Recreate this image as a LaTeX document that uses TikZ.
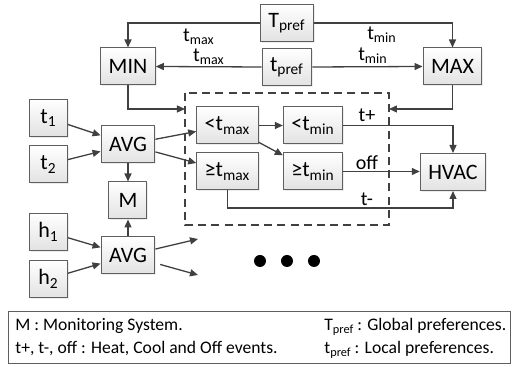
\documentclass[tikz,border=0pt]{standalone}
\usepackage{fontspec}
\setmainfont{Carlito}
\usetikzlibrary{arrows.meta,shadows}
\definecolor{box_line}{RGB}{95,95,95}
\definecolor{wire}{RGB}{64,64,64}
\definecolor{box_bot}{RGB}{226,226,226}
\tikzstyle{blk}=[rectangle,draw=box_line,top color=white,bottom color=box_bot,
  line width=0.5pt,inner xsep=4pt,minimum width=19pt,minimum height=18.5pt,
  font=\fontsize{11}{13}\selectfont,
  drop shadow={opacity=0.15,shadow xshift=0.7pt,shadow yshift=-0.7pt}]
\tikzstyle{lbl}=[font=\fontsize{10}{12}\selectfont,inner sep=1pt]
\tikzstyle{leg}=[font=\fontsize{8.8}{11}\selectfont,inner sep=0pt,anchor=base west]
\tikzstyle{wr}=[draw=wire,line width=0.65pt,-{Triangle[length=4pt,width=3.5pt]}]
\tikzstyle{dot}=[circle,fill=black,minimum size=6pt,inner sep=0pt]

\begin{document}
\begin{tikzpicture}[x=0.5pt,y=-0.5pt]
        \useasboundingbox (0,0) rectangle (516,367);
        % preferences
        \node[style=blk] (Tpref) at (287,23) {T\textsubscript{pref}};
        \node[style=blk] (tpref) at (287,67) {t\textsubscript{pref}};
        \node[style=blk] (MIN) at (128,66.5) {MIN};
        \node[style=blk] (MAX) at (452.5,66.5) {MAX};
        \node[style=lbl] (lmaxA) at (199,37) {t\textsubscript{max}};
        \node[style=lbl] (lmaxB) at (209,57) {t\textsubscript{max}};
        \node[style=lbl] (lminA) at (382,35) {t\textsubscript{min}};
        \node[style=lbl] (lminB) at (373,56) {t\textsubscript{min}};
        % sensors
        \node[style=blk] (t1) at (48.5,118) {t\textsubscript{1}};
        \node[style=blk] (t2) at (48.5,164.5) {t\textsubscript{2}};
        \node[style=blk] (h1) at (48.5,232) {h\textsubscript{1}};
        \node[style=blk] (h2) at (48.5,279) {h\textsubscript{2}};
        \node[style=blk] (avgT) at (128,144.5) {AVG};
        \node[style=blk] (M) at (128,200.5) {M};
        \node[style=blk] (avgH) at (128,255.5) {AVG};
        % comparators
        \draw[wire,line width=0.65pt,dash pattern=on 4pt off 2.6pt] (185,93) rectangle (389,225);
        \coordinate (inL) at (185,109);
        \coordinate (inR) at (389,109);
        \node[style=blk] (ltmax) at (227.5,125.5) {<t\textsubscript{max}};
        \node[style=blk] (ltmin) at (313,125.5) {<t\textsubscript{min}};
        \node[style=blk] (gtmax) at (227.5,171.5) {≥t\textsubscript{max}};
        \node[style=blk] (gtmin) at (313,171.5) {≥t\textsubscript{min}};
        \node[style=blk] (HVAC) at (453,172) {HVAC};
        \node[style=lbl] (tplus) at (367,115) {t+};
        \node[style=lbl] (off) at (367,163) {off};
        \node[style=lbl] (tminus) at (367,199) {t-};
        \coordinate (lowturn) at (453,208);
        \coordinate (oA) at (198,239);
        \coordinate (oB) at (198,275);
        \foreach \x [count=\i] in {260,287,314}
            \node[style=dot] (dot\i) at (\x,261) {};

        \draw[wr] (Tpref.west) -| (MIN.north);
        \draw[wr] (Tpref.east) -| (MAX.north);
        \draw[wr] (tpref.west) -- (MIN.east);
        \draw[wr] (tpref.east) -- (MAX.west);
        \draw[wr] (MIN.south) |- (inL);
        \draw[wr] (MAX.south) |- (inR);
        \draw[wr] (t1) to (avgT);
        \draw[wr] (t2) to (avgT);
        \draw[wr] (h1) to (avgH);
        \draw[wr] (h2) to (avgH);
        \draw[wr] (avgT.south) to (M.north);
        \draw[wr] (avgH.north) to (M.south);
        \draw[wr] (avgT) to (ltmax);
        \draw[wr] (avgT) to (gtmax);
        \draw[wr] (avgH) to (oA);
        \draw[wr,shorten <=2.5pt] (avgH) to (oB);
        \draw[wr] (ltmax) to (ltmin);
        \draw[wr] (ltmax) to (gtmin);
        \draw[wr] (ltmin.east) -| (HVAC.north);
        \draw[wr] (gtmin.east) -- (gtmin.east -| HVAC.west);
        \draw[wr] (gtmax.south) |- (lowturn) -- (HVAC.south);

        % legend
        \node[draw=box_line,line width=0.5pt,minimum width=251pt,minimum height=26pt,
            anchor=north west,inner sep=0pt] (legend) at (8,311) {};
        \node[style=leg] (legM) at (15,331) {M : Monitoring System.};
        \node[style=leg] (legEv) at (15,354) {t+, t-, off : Heat, Cool and Off events.};
        \node[style=leg] (legT) at (324,331) {T\textsubscript{pref}\,: Global preferences.};
        \node[style=leg] (legt) at (324,354) {t\textsubscript{pref}\,: Local preferences.};
\end{tikzpicture}
\end{document}
